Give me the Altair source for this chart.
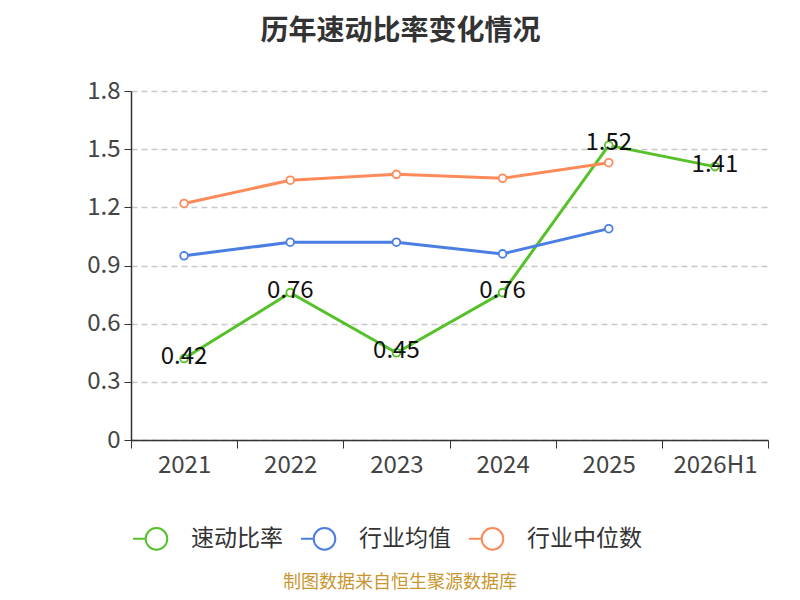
import altair as alt
import pandas as pd

# chart data
years = ["2021", "2022", "2023", "2024", "2025", "2026H1"]
series_names = ["速动比率", "行业均值", "行业中位数"]
quick_ratio = [0.42, 0.76, 0.45, 0.76, 1.52, 1.41]
industry_avg = [0.95, 1.02, 1.02, 0.96, 1.09, None]
industry_median = [1.22, 1.34, 1.37, 1.35, 1.43, None]
colors = ["#56c12a", "#4a7ee3", "#fd8b5a"]
y_ticks = [0, 0.3, 0.6, 0.9, 1.2, 1.5, 1.8]
source_note = "制图数据来自恒生聚源数据库"

rows = []
for name, vals in zip(series_names, [quick_ratio, industry_avg, industry_median]):
    for yr, v in zip(years, vals):
        if v is not None:
            rows.append({"year": yr, "series": name, "value": v})
df = pd.DataFrame(rows)

FONT = "Noto Sans CJK SC"
legend_path = "M-1,0L-0.46,0M0.46,0A0.46,0.46,0,1,1,-0.46,0A0.46,0.46,0,1,1,0.46,0"

x_enc = alt.X(
    "year:N",
    sort=years,
    scale=alt.Scale(type="band", paddingInner=0, paddingOuter=0),
    axis=alt.Axis(
        title=None, labelAngle=0, labelFontSize=24, labelColor="#444",
        labelPadding=5, tickBand="extent", tickSize=8, tickColor="#333",
        domainColor="#333", domainWidth=1.5, grid=False,
    ),
)
y_enc = alt.Y(
    "value:Q",
    scale=alt.Scale(domain=[0, 1.8], nice=False),
    axis=alt.Axis(
        title=None, values=y_ticks, format="~g", labelFontSize=24,
        labelColor="#444", labelPadding=4, tickSize=7, tickColor="#333",
        domainColor="#333", domainWidth=1.5, gridColor="#c8c8c8",
        gridDash=[6, 4], gridWidth=1.5,
    ),
)
color_scale = alt.Scale(domain=series_names, range=colors)

base = alt.Chart(df)

lines = base.mark_line(strokeWidth=3).encode(
    x=x_enc,
    y=y_enc,
    color=alt.Color(
        "series:N", scale=color_scale, sort=series_names,
        legend=alt.Legend(
            title=None, orient="none", legendX=1, legendY=423,
            direction="horizontal", symbolType=legend_path, symbolSize=2209,
            symbolStrokeWidth=2, symbolFillColor="white", labelFontSize=23,
            labelColor="#333", labelOffset=10, columnPadding=14,
        ),
    ),
    detail="series:N",
)

points = base.mark_point(filled=True, fill="white", size=60, strokeWidth=1.8, opacity=1).encode(
    x=x_enc,
    y=y_enc,
    stroke=alt.Stroke("series:N", scale=color_scale, legend=None),
)

labels = base.transform_filter(alt.datum.series == "速动比率").mark_text(
    fontSize=24, color="#111", baseline="middle", dy=-2, font=FONT
).encode(
    x=x_enc,
    y=y_enc,
    text=alt.Text("value:Q", format=".2f"),
)

source = alt.Chart(pd.DataFrame({"note": [source_note]})).mark_text(
    fontSize=18, color="#c8962f", font=FONT, baseline="middle"
).encode(x=alt.value(269), y=alt.value(492), text="note:N")

chart = (
    alt.layer(lines, points, labels, source)
    .properties(
        width=637,
        height=349,
        autosize=alt.AutoSizeParams(type="none"),
        padding={"left": 123, "top": 83, "right": 24, "bottom": 152},
        title=alt.TitleParams(
            "历年速动比率变化情况", fontSize=28, fontWeight="bold", color="#333",
            anchor="middle", dx=-49, offset=33, font=FONT,
        ),
    )
    .configure(font=FONT)
    .configure_view(strokeWidth=0)
)

chart.save("out.html", embed_options={"renderer": "svg", "actions": False})
